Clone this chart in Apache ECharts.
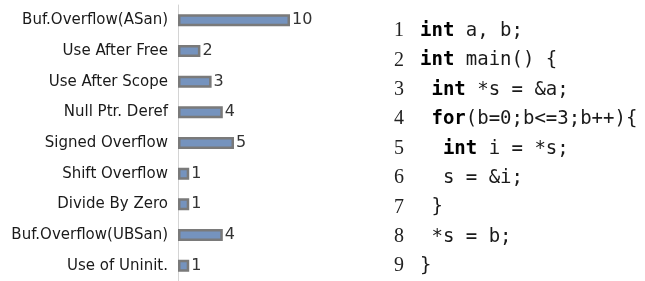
<!DOCTYPE html>
<html>
<head>
<meta charset="utf-8">
<script src="https://cdn.jsdelivr.net/npm/echarts@6/dist/echarts.min.js"></script>
<style>
    html, body { margin: 0; padding: 0; background: #fff; }
    #chart { width: 645px; height: 281px; }
</style>
</head>
<body>
<div id="chart"></div>
<script>
    // bug kinds and how many were found
    var categories = ['Buf.Overflow(ASan)', 'Use After Free', 'Use After Scope', 'Null Ptr. Deref',
        'Signed Overflow', 'Shift Overflow', 'Divide By Zero', 'Buf.Overflow(UBSan)', 'Use of Uninit.'];
    var counts = [10, 2, 3, 4, 5, 1, 1, 4, 1];

    // the code listing on the right
    var codeLines = ['int a, b;', 'int main() {', ' int *s = &a;', ' for(b=0;b<=3;b++){',
        '  int i = *s;', '  s = &i;', ' }', ' *s = b;', '}'];
    var keywords = ['int', 'for'];

    var chart = echarts.init(document.getElementById('chart'));

    var charW = 19 * 0.602;
    var graphics = [];
    codeLines.forEach(function (line, i) {
        var y = 31 + i * 29.4;
        graphics.push({
            type: 'text', x: 399, y: y,
            style: {
                text: String(i + 1), fill: '#222', align: 'center', verticalAlign: 'middle',
                font: '20px "Liberation Serif", serif'
            }
        });
        var indent = line.length - line.replace(/^ +/, '').length;
        var body = line.trim();
        keywords.forEach(function (k) {
            body = body.replace(new RegExp('\\b' + k + '\\b'), '{k|' + k + '}');
        });
        graphics.push({
            type: 'text', x: 420 + indent * charW, y: y,
            style: {
                text: body, fill: '#1a1a1a', verticalAlign: 'middle',
                font: '19px "DejaVu Sans Mono", monospace',
                rich: { k: { fontWeight: 'bold', fontFamily: 'DejaVu Sans Mono', fontSize: 19, fill: '#000' } }
            }
        });
    });

    chart.setOption({
        animation: false,
        grid: { left: 178, top: 5, width: 112, height: 277 },
        xAxis: {
            type: 'value', min: 0, max: 10, show: false
        },
        yAxis: {
            type: 'category',
            data: categories,
            inverse: true,
            axisTick: { show: false },
            axisLine: { lineStyle: { color: '#d4d4d4', width: 1 } },
            axisLabel: { margin: 10, color: '#1a1a1a', fontSize: 15, fontFamily: 'DejaVu Sans' }
        },
        series: [{
            type: 'bar',
            data: counts,
            barWidth: 12,
            itemStyle: { color: '#7593be', borderColor: '#7a7a7a', borderWidth: 2.5 },
            label: {
                show: true, position: 'right', distance: 2,
                color: '#333', fontSize: 16, fontFamily: 'DejaVu Sans'
            }
        }],
        graphic: graphics
    });
</script>
</body>
</html>
